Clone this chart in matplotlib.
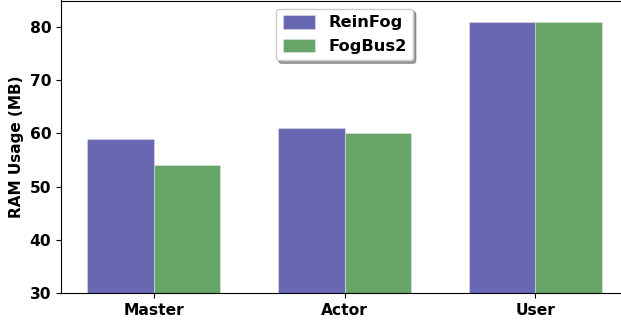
import matplotlib
matplotlib.use("Agg")
import matplotlib.pyplot as plt
import numpy as np

components = ["Master", "Actor", "User"]
reinfog_ram = [59, 61, 81]
fogbus2_ram = [54, 60, 81]

plt.rcParams["font.family"] = "DejaVu Sans"
plt.rcParams["font.weight"] = "bold"

fig = plt.figure(figsize=(6.21, 3.27), dpi=100)
ax = fig.add_axes([61 / 621, 34 / 327, 567 / 621, 292.5 / 327])

x = np.arange(len(components))
width = 0.35
ax.bar(x - width / 2, reinfog_ram, width, color="#6867b1", label="ReinFog",
       edgecolor=(1, 1, 1, 0.3), linewidth=0.8)
ax.bar(x + width / 2, fogbus2_ram, width, color="#66a467", label="FogBus2",
       edgecolor=(1, 1, 1, 0.3), linewidth=0.8)

ax.set_ylim(30, 85)
ax.set_xticks(x)
ax.set_xticklabels(components, fontsize=11.2, fontweight="bold")
ax.tick_params(axis="y", labelsize=11.2)
for lbl in ax.get_yticklabels():
    lbl.set_fontweight("bold")
ax.set_ylabel("RAM Usage (MB)", fontsize=11, fontweight="bold")

ax.legend(loc="upper center", bbox_to_anchor=(0.5, 1.0), fancybox=True,
          shadow=True, framealpha=1, handleheight=0.9,
          prop={"weight": "bold", "size": 11.7})

fig.savefig("out.png", dpi=100)
